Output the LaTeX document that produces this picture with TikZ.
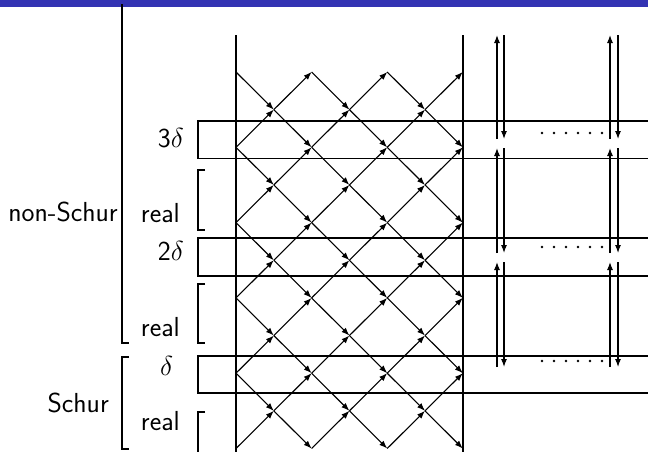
\RequirePackage{fix-cm}
\documentclass[tikz,border=0pt]{standalone}
\usepackage{fontspec}
\usetikzlibrary{arrows.meta}
\definecolor{barblue}{RGB}{51,51,179}
\tikzset{
  ln/.style={line width=1.1pt},
  arr/.style={line width=1.1pt,-{Latex[length=8pt,width=6pt]}},
  lbl/.style={inner sep=0pt,font=\sffamily\fontsize{27.5}{32}\selectfont},
  dotm/.style={fill=black},
}
\begin{document}
\begin{tikzpicture}[x=1pt,y=-1pt]
\useasboundingbox (0,0) rectangle (648,451);
\fill[barblue] (0,0) rectangle (648,7);
% lattice points
\foreach \i in {0,...,6}{
  \foreach \j in {0,...,10}{
    \coordinate (p-\i-\j) at ({236+\i*37.8},{72+\j*37.65});
  }
}
% lattice arrows
\foreach \i [evaluate=\i as \ii using int(\i+1)] in {0,...,5}{
  \foreach \j in {0,...,10}{
    \ifodd\numexpr\i+\j\relax\else
      \ifnum\j<10 \pgfmathtruncatemacro\jn{\j+1}\draw[arr] (p-\i-\j) -- (p-\ii-\jn);\fi
      \ifnum\j>0 \pgfmathtruncatemacro\jp{\j-1}\draw[arr] (p-\i-\j) -- (p-\ii-\jp);\fi
    \fi
  }
}
% vertical borders
\coordinate (v1t) at (236,35); \coordinate (v1b) at (236,452);
\coordinate (v2t) at (463,35); \coordinate (v2b) at (463,452);
\draw[ln] (v1t) -- (v1b);
\draw[ln] (v2t) -- (v2b);
% boxes
\foreach \t/\b in {121/158.5,238/276,356/393}{
  \draw[ln] (648,\t) -- (198,\t) -- (198,\b) -- (648,\b);
}
% real brackets
\foreach \t/\b in {170/230,284/343}{
  \draw[ln] (205,\t) -- (198,\t) -- (198,\b) -- (205,\b);
}
\draw[ln] (205,412) -- (198,412) -- (198,453);
% big brackets
\draw[ln] (122,4) -- (122,343) -- (129,343);
\draw[ln] (129,357) -- (122,357) -- (122,449) -- (129,449);
% right vertical arrows
\foreach \t/\b in {35/139,148/253,262/367}{
  \foreach \xu/\xd in {497/504,610/618}{
    \coordinate (u-\xu-\t) at (\xu,\t); \coordinate (ub-\xu-\t) at (\xu,\b);
    \coordinate (d-\xd-\t) at (\xd,\t); \coordinate (db-\xd-\t) at (\xd,\b);
    \draw[arr] (ub-\xu-\t) -- (u-\xu-\t);
    \draw[arr] (d-\xd-\t) -- (db-\xd-\t);
  }
}
% dots
\foreach \y in {133,247,361}{
  \foreach \k in {0,...,5}{
    \fill[dotm] ({542+12*\k},\y) circle (1.3);
  }
}
% labels
\node[lbl,anchor=base east] (l3d) at (184,147.5) {3$\delta$};
\node[lbl,anchor=base east] (lr1) at (180,222.5) {real};
\node[lbl,anchor=base east] (l2d) at (184,260) {2$\delta$};
\node[lbl,anchor=base east] (lr2) at (180,336) {real};
\node[lbl,anchor=base west] (ld) at (160,375) {$\delta$};
\node[lbl,anchor=base east] (lr3) at (180,430.5) {real};
\node[lbl,anchor=base east] (lns) at (118,221) {non-Schur};
\node[lbl,anchor=base east] (ls) at (109,412) {Schur};
\end{tikzpicture}
\end{document}
